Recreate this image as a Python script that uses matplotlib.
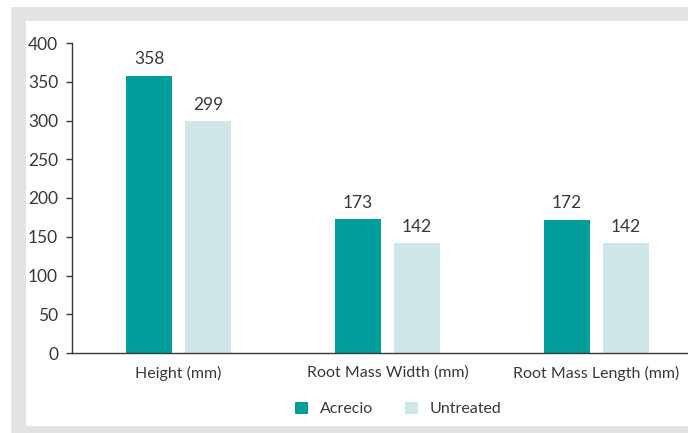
import matplotlib
matplotlib.use("Agg")
import matplotlib.pyplot as plt
from matplotlib.patches import Rectangle, Patch

categories = ["Height (mm)", "Root Mass Width (mm)", "Root Mass Length (mm)"]
acrecio = [358, 173, 172]
untreated = [299, 142, 142]
series_names = ["Acrecio", "Untreated"]
yticks = [0, 50, 100, 150, 200, 250, 300, 350, 400]

TEAL = "#009f9b"
PALE = "#cde7e8"
TEXT = "#383838"
FRAME = "#e3e3e3"

plt.rcParams['font.family'] = ['Lato', 'DejaVu Sans']

fig = plt.figure(figsize=(6.88, 4.33), dpi=100)
fig.patches.append(Rectangle((11 / 688, 0), 1, 1 - 7 / 433, transform=fig.transFigure,
                             facecolor=FRAME, edgecolor="none", zorder=-2))
fig.patches.append(Rectangle((26 / 688, 7 / 433), 1, 1 - 28 / 433, transform=fig.transFigure,
                             facecolor="white", edgecolor="none", zorder=-1))

ax = fig.add_axes([72 / 688, 80 / 433, 1 - 72 / 688, 310 / 433])
ax.patch.set_visible(False)

x = list(range(len(categories)))
w = 0.22
off = 0.141
b1 = ax.bar([i - off for i in x], acrecio, w, color=TEAL, label=series_names[0])
b2 = ax.bar([i + off for i in x], untreated, w, color=PALE, label=series_names[1])

for bars, vals in ((b1, acrecio), (b2, untreated)):
    for r, v in zip(bars, vals):
        ax.annotate(str(v), (r.get_x() + r.get_width() / 2, v), xytext=(0, 6),
                    textcoords="offset points", ha="center", va="bottom",
                    fontsize=12.5, color=TEXT)

ax.set_xlim(-0.5096, 2.4378)
ax.set_ylim(0, 400)
ax.set_yticks(yticks)
ax.set_xticks(x)
ax.set_xticklabels(categories)
ax.tick_params(axis="y", length=4, width=1, color=TEXT, labelsize=12.5, labelcolor=TEXT, pad=6)
ax.tick_params(axis="x", length=0, labelsize=11.5, labelcolor=TEXT, pad=9)
for s in ("top", "right"):
    ax.spines[s].set_visible(False)
for s in ("left", "bottom"):
    ax.spines[s].set_color(TEXT)
    ax.spines[s].set_linewidth(1)

handles = [Patch(facecolor=TEAL), Patch(facecolor=PALE)]
fig.legend(handles, series_names, loc="center", bbox_to_anchor=(398 / 688, 1 - 409 / 433),
           ncol=2, frameon=False, fontsize=11.5, labelcolor=TEXT,
           handlelength=0.85, handleheight=0.85, handletextpad=0.7, columnspacing=2.0)

fig.savefig("out.png", dpi=100, facecolor="white")
